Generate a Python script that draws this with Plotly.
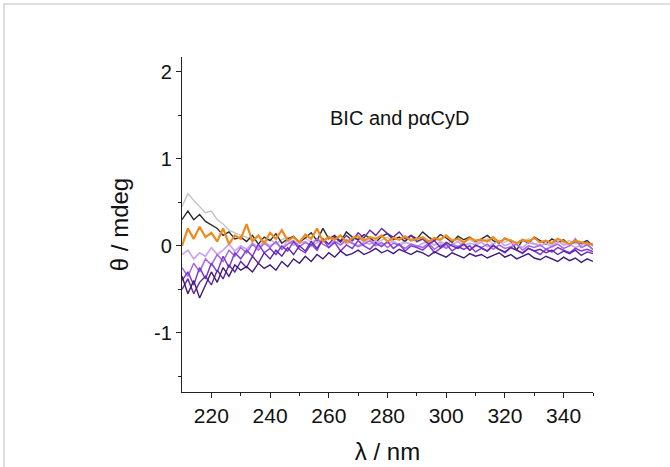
import plotly.graph_objects as go

wavelength = list(range(210, 351, 2))

gray = [0.45, 0.60, 0.52, 0.45, 0.38, 0.40, 0.30, 0.25, 0.18, 0.15, 0.12,
        0.10, 0.06, 0.12, 0.04, 0.08, 0.02, 0.07, 0.10, 0.03, 0.06,
        0.09, 0.04, 0.08, 0.05, 0.11, 0.03, 0.07, 0.02, 0.06, 0.09,
        0.04, 0.08, 0.03, 0.07, 0.10, 0.05, 0.02, 0.06, 0.09, 0.04,
        0.07, 0.03, 0.08, 0.05, 0.02, 0.06, 0.09, 0.04, 0.07, 0.03,
        0.05, 0.08, 0.02, 0.06, 0.04, 0.07, 0.03, 0.05, 0.08, 0.02,
        0.04, 0.06, 0.01, 0.05, 0.03, 0.06, 0.02, 0.04, 0.01, 0.03]

black = [0.30, 0.40, 0.30, 0.36, 0.28, 0.24, 0.20, 0.12, 0.16, 0.08, 0.10,
         0.05, 0.12, 0.02, 0.10, 0.06, 0.14, 0.03, 0.08, 0.11, 0.04,
         0.09, 0.15, 0.06, 0.20, 0.08, 0.12, 0.05, 0.16, 0.10, 0.07,
         0.13, 0.09, 0.04, 0.11, 0.14, 0.07, 0.10, 0.05, 0.12, 0.08,
         0.16, 0.10, 0.06, 0.13, 0.09, 0.04, 0.11, 0.07, 0.10, 0.05,
         0.08, 0.12, 0.06, 0.03, 0.09, 0.05, -0.05, 0.07, 0.03, 0.10,
         0.06, 0.02, 0.08, 0.04, 0.07, 0.01, 0.05, 0.03, 0.06, 0.00]

orange = [0.00, 0.20, 0.08, 0.22, 0.10, 0.15, 0.05, 0.20, 0.02, 0.12, 0.08,
          0.25, 0.05, 0.12, 0.03, 0.15, 0.08, 0.18, 0.06, 0.10, 0.04,
          0.13, 0.08, 0.20, 0.05, 0.10, 0.07, 0.12, 0.04, 0.09, 0.11,
          0.06, 0.10, 0.08, 0.12, 0.05, 0.09, 0.07, 0.11, 0.06, 0.08,
          0.10, 0.05, 0.09, 0.07, 0.12, 0.06, 0.08, 0.04, 0.09, 0.06,
          0.07, 0.05, 0.10, 0.04, 0.08, 0.06, 0.03, 0.07, 0.05, 0.09,
          0.04, 0.06, 0.03, 0.08, 0.05, 0.02, 0.06, 0.04, 0.03, 0.01]

lavender = [-0.10, -0.05, -0.15, -0.08, -0.12, -0.02, -0.10, -0.05, 0.02, -0.06, 0.00,
            -0.04, 0.03, -0.02, 0.05, 0.00, 0.04, -0.03, 0.06, 0.01, 0.03,
            0.05, 0.00, 0.04, 0.07, 0.02, 0.05, 0.01, 0.06, 0.03, 0.00,
            0.04, 0.02, 0.06, 0.01, 0.03, 0.05, 0.00, 0.04, 0.02, -0.01,
            0.03, 0.05, 0.01, 0.04, -0.02, 0.02, 0.05, 0.00, 0.03, 0.01,
            0.04, -0.01, 0.02, 0.06, 0.00, 0.03, 0.01, -0.02, 0.04, 0.02,
            0.00, 0.03, -0.01, 0.05, 0.01, 0.02, -0.02, 0.01, 0.03, -0.05]

medium_purple = [-0.25, -0.35, -0.20, -0.30, -0.15, -0.22, -0.10, -0.18, -0.05, -0.12, -0.02,
                 -0.08, 0.02, -0.05, 0.03, -0.02, 0.05, -0.04, 0.02, 0.06, -0.01,
                 0.04, 0.00, 0.08, 0.02, -0.02, 0.05, 0.01, 0.07, 0.03, -0.01,
                 0.02, 0.06, 0.00, 0.04, -0.02, 0.03, 0.01, -0.03, 0.02, 0.00,
                 -0.02, 0.03, -0.04, 0.01, -0.03, 0.02, -0.01, 0.03, -0.05, 0.00,
                 -0.02, 0.02, -0.04, 0.01, -0.03, -0.01, 0.02, -0.05, 0.00, -0.02,
                 0.01, -0.04, -0.01, 0.02, -0.03, 0.00, 0.08, -0.02, 0.01, -0.04]

purple = [-0.40, -0.30, -0.45, -0.25, -0.38, -0.20, -0.30, -0.12, -0.25, -0.08, -0.15,
          -0.05, -0.12, 0.02, -0.08, -0.03, -0.10, 0.00, -0.06, 0.05, -0.04,
          -0.08, 0.02, -0.05, 0.08, -0.02, 0.04, -0.06, 0.01, -0.03, 0.06,
          0.00, -0.04, 0.03, -0.01, 0.05, -0.03, 0.02, -0.06, 0.00, -0.02,
          -0.05, 0.01, -0.08, -0.03, 0.02, -0.06, -0.01, -0.04, 0.00, -0.07,
          -0.03, -0.06, 0.01, -0.04, -0.08, -0.02, -0.05, -0.09, -0.03, -0.06,
          -0.10, -0.04, -0.07, -0.02, -0.05, -0.08, -0.03, -0.06, -0.04, -0.07]

dark_purple = [-0.50, -0.38, -0.55, -0.42, -0.35, -0.45, -0.28, -0.38, -0.22, -0.30, -0.18,
               -0.25, -0.12, -0.20, -0.08, -0.15, -0.05, -0.12, -0.02, -0.10, 0.00,
               -0.06, 0.05, -0.03, 0.08, 0.02, 0.10, 0.04, 0.12, 0.06, 0.15,
               0.09, 0.18, 0.12, 0.20, 0.14, 0.10, 0.16, 0.08, 0.12, 0.05,
               0.08, 0.02, 0.06, -0.02, 0.04, 0.00, -0.03, 0.02, -0.05, 0.01,
               -0.02, -0.06, 0.00, -0.04, -0.07, -0.02, -0.05, -0.08, -0.03, -0.06,
               -0.04, -0.08, -0.05, -0.10, -0.06, -0.09, -0.05, -0.11, -0.07, -0.09]

indigo = [-0.35, -0.55, -0.40, -0.60, -0.45, -0.30, -0.42, -0.25, -0.35, -0.22, -0.28,
          -0.24, -0.30, -0.20, -0.26, -0.22, -0.28, -0.18, -0.24, -0.15, -0.20,
          -0.12, -0.18, -0.10, -0.15, -0.08, -0.13, -0.06, -0.11, -0.09, -0.05,
          -0.10, -0.07, -0.03, -0.08, -0.05, -0.09, -0.04, -0.07, -0.10, -0.06,
          -0.08, -0.12, -0.07, -0.10, -0.13, -0.08, -0.11, -0.14, -0.09, -0.12,
          -0.10, -0.14, -0.11, -0.08, -0.13, -0.10, -0.15, -0.12, -0.09, -0.14,
          -0.16, -0.12, -0.15, -0.18, -0.13, -0.17, -0.14, -0.19, -0.15, -0.18]

x_ticks = [220, 240, 260, 280, 300, 320, 340]
y_ticks = [-1, 0, 1, 2]
y_ticktext = ["-1", "0", "1", "2"]

series = [
    (gray, "#c4c4c4", 1.4),
    (black, "#2b2b2b", 1.4),
    (lavender, "#cba5f3", 1.7),
    (medium_purple, "#a868e6", 1.5),
    (purple, "#7f3ad6", 1.5),
    (dark_purple, "#5e28a6", 1.4),
    (indigo, "#3f1a78", 1.4),
    (orange, "#f08a1c", 2.2),
]

fig = go.Figure()
for vals, col, w in series:
    fig.add_trace(go.Scatter(x=wavelength, y=vals, mode="lines",
                             line=dict(color=col, width=w), showlegend=False,
                             hoverinfo="skip"))

W, H = 670, 467
L, R, T, B = 182, 77, 57, 75
pw, ph = W - L - R, H - T - B

def px(x):
    return (x - L) / pw

def py(y):
    return (H - B - y) / ph

font = "Liberation Sans, Arial, sans-serif"
axis_common = dict(showline=True, linecolor="#222222", linewidth=1.3,
                   ticks="outside", ticklen=5, tickwidth=1.2, tickcolor="#222222",
                   showgrid=False, zeroline=False, automargin=False)
fig.update_layout(
    width=W, height=H,
    margin=dict(l=L, r=R, t=T, b=B),
    paper_bgcolor="white", plot_bgcolor="white",
    font=dict(family=font, color="#111111"),
    xaxis=dict(range=[210, 350], tickvals=x_ticks, **axis_common,
               minor=dict(tickvals=[230, 250, 270, 290, 310, 330, 350], ticks="outside",
                          ticklen=3, tickwidth=1.1, tickcolor="#222222"),
               tickfont=dict(size=21),
               title=dict(text="λ / nm", font=dict(size=24), standoff=16)),
    yaxis=dict(range=[-1.68, 2.17], tickvals=y_ticks, ticktext=y_ticktext, **axis_common,
               minor=dict(tickvals=[-1.5, -0.5, 0.5, 1.5], ticks="outside",
                          ticklen=3, tickwidth=1.1, tickcolor="#222222"),
               tickfont=dict(size=20),
               title=dict(text="θ / mdeg", font=dict(size=24), standoff=18)),
    annotations=[dict(x=px(399), y=py(105), xref="paper", yref="paper", showarrow=False,
                      text="BIC and pαCyD", font=dict(size=20, color="#111111"))],
    shapes=[
        dict(type="line", xref="paper", yref="paper", x0=px(3), x1=px(670), y0=py(4), y1=py(4),
             line=dict(color="#dddddd", width=2)),
        dict(type="line", xref="paper", yref="paper", x0=px(4), x1=px(4), y0=py(4), y1=py(467),
             line=dict(color="#dddddd", width=2)),
    ],
)

fig.write_html("out.html")
